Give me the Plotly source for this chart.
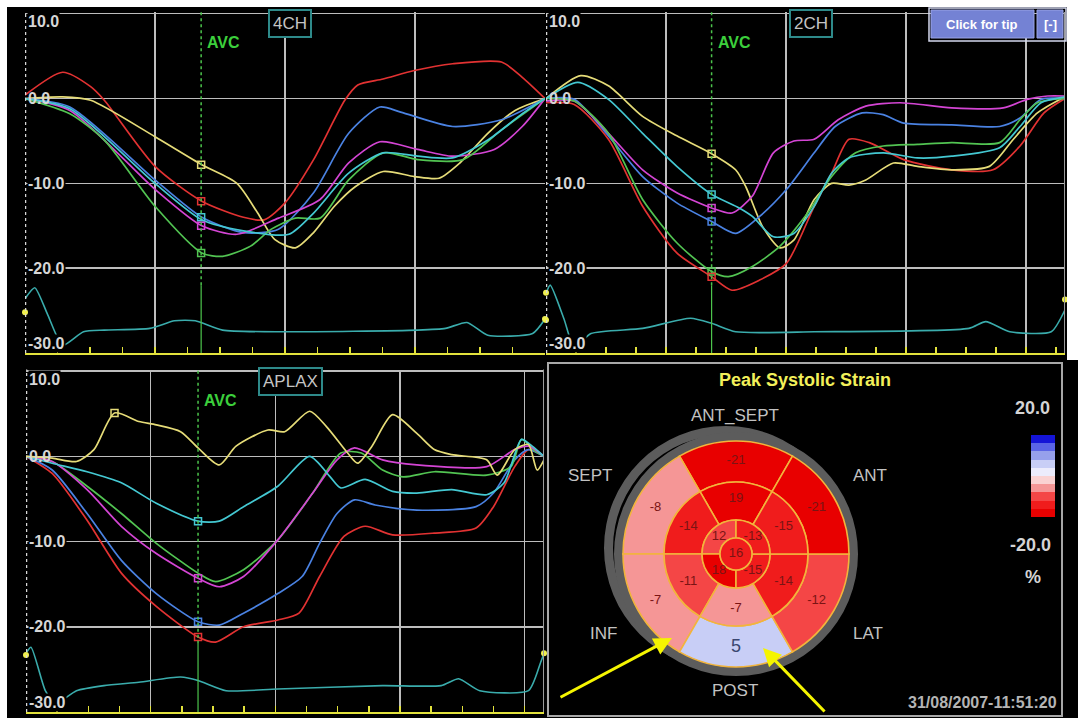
import plotly.graph_objects as go

W, H = 1078, 718

# ---------------- colours ----------------
RED, YEL, BLU, MAG, GRN, CYA = "#e23232", "#e6dc78", "#4a82e2", "#d445d4", "#52c452", "#44c8d2"
ECG_C = "#3aacac"

# ---------------- 4CH view (ms, strain %) ----------------
avc_4ch = 271
t_4ch_red = [0, 58, 101, 122, 200, 272, 336, 368, 400, 444, 492, 512, 551, 599, 658, 733, 765, 800]
v_4ch_red = [0.4, 3.1, 1.4, -0.2, -8, -12.1, -14, -14.3, -12.3, -7.2, -0.2, 1.6, 2.3, 3.3, 4.1, 4.3, 2.5, 0]
t_4ch_yel = [0, 58, 101, 200, 272, 326, 358, 384, 416, 444, 476, 508, 551, 599, 637, 669, 712, 754, 800]
v_4ch_yel = [0, 0.2, -0.2, -4.5, -7.8, -10, -13.5, -16.6, -17.6, -15.8, -12.7, -10.4, -8.6, -9.2, -9.4, -7.6, -4.1, -1.4, 0]
t_4ch_blu = [0, 69, 200, 272, 336, 390, 444, 498, 546, 578, 658, 733, 800]
v_4ch_blu = [0, -1, -9.6, -14, -15.8, -15.4, -11.1, -4.1, -1, -1.6, -3.3, -2.5, 0]
t_4ch_mag = [0, 69, 200, 272, 326, 390, 454, 498, 546, 604, 658, 722, 765, 800]
v_4ch_mag = [0, -1.4, -10.7, -15, -16, -14.1, -11.9, -7.6, -5.1, -6, -6.8, -6, -3.3, 0]
t_4ch_grn = [0, 69, 122, 200, 272, 304, 347, 379, 416, 454, 498, 551, 604, 674, 733, 800]
v_4ch_grn = [0, -1.8, -4.9, -12.7, -18.2, -18.6, -17.4, -15.4, -14.1, -14.1, -9.6, -6.4, -7.2, -7.2, -3.7, 0]
t_4ch_cya = [0, 69, 200, 272, 336, 406, 444, 498, 551, 604, 658, 712, 765, 800]
v_4ch_cya = [0, -1.2, -10, -14.3, -15.6, -16, -13.5, -8.8, -6.4, -6.8, -7, -4.9, -1.8, 0]
t_4ch_ecg = [0, 15, 35, 58, 90, 122, 192, 230, 262, 304, 400, 604, 647, 680, 712, 781, 800]
v_4ch_ecg = [-23.6, -22.3, -25.5, -29.1, -27.5, -27.3, -27.1, -26.2, -26.2, -27.3, -27.5, -27.3, -27.1, -26.4, -27.9, -27.7, -26]
mk_4ch_t = [271, 271, 271, 271, 271]
mk_4ch_v = [-7.8, -12.1, -14, -15, -18.2]
mk_4ch_c = [YEL, RED, CYA, MAG, GRN]
dot_4ch_t = [0, 800]
dot_4ch_v = [-25.2, -26]

# ---------------- 2CH view ----------------
avc_2ch = 276
t_2ch_yel = [0, 58, 104, 161, 218, 276, 316, 333, 361, 390, 413, 447, 476, 505, 533, 579, 619, 676, 739, 779, 819, 865]
v_2ch_yel = [0, 2.7, 1.5, -2.1, -4.4, -6.5, -8.4, -10.4, -15.1, -17.6, -16.7, -11.9, -10, -10.2, -9.6, -7.6, -8, -8.4, -8, -4.8, -1.7, 0.2]
t_2ch_cya = [0, 53, 104, 161, 218, 276, 322, 344, 379, 413, 447, 476, 505, 562, 619, 676, 756, 790, 825, 865]
v_2ch_cya = [0, 1.9, -0.1, -4.1, -8, -11.3, -12.9, -13.9, -16.3, -15.9, -12.7, -8.8, -7, -6.4, -7, -6.8, -5.8, -3.3, -0.5, 0.2]
t_2ch_mag = [0, 47, 104, 161, 218, 276, 310, 344, 379, 413, 447, 487, 533, 590, 676, 762, 802, 836, 865]
v_2ch_mag = [-0.3, -0.3, -4.1, -8.4, -11.1, -12.9, -13.5, -11.5, -6.4, -5, -4.8, -2.5, -0.9, -0.5, -1.1, -1.1, -0.1, 0.3, 0.3]
t_2ch_blu = [0, 47, 104, 161, 218, 276, 316, 356, 401, 447, 482, 527, 562, 596, 676, 756, 790, 825, 865]
v_2ch_blu = [0, -0.1, -4.4, -9.2, -12.3, -14.5, -15.9, -13.9, -10.7, -6.4, -3.3, -1.7, -1.9, -2.9, -3.1, -3.3, -2.3, -0.1, 0]
t_2ch_grn = [0, 47, 104, 161, 218, 276, 304, 344, 390, 436, 476, 516, 562, 619, 676, 756, 790, 819, 865]
v_2ch_grn = [0, -0.3, -4.1, -11.9, -17, -20.4, -21, -19.8, -17.4, -13.5, -9.2, -6.4, -5.6, -5.4, -5.2, -5.2, -2.5, -0.5, 0]
t_2ch_red = [0, 47, 104, 161, 218, 276, 310, 356, 401, 447, 476, 505, 539, 596, 676, 745, 790, 830, 865]
v_2ch_red = [-0.5, -0.7, -4.8, -12.7, -18.2, -21, -22.6, -21.4, -19.4, -12.7, -8.8, -4.8, -5.2, -7.2, -8.4, -8.4, -5.6, -1.7, 0]
t_2ch_ecg = [0, 7, 30, 47, 75, 161, 241, 276, 316, 447, 705, 733, 773, 842, 865]
v_2ch_ecg = [-23, -22, -26, -29.3, -27.7, -27.1, -25.9, -26.5, -27.5, -27.5, -27.1, -26.3, -27.5, -27.5, -24.9]
mk_2ch_t = [276, 276, 276, 276, 276, 276]
mk_2ch_v = [-6.5, -11.3, -12.9, -14.5, -20.4, -21]
mk_2ch_c = [YEL, CYA, MAG, BLU, GRN, RED]
dot_2ch_t = [0, 0, 865]
dot_2ch_v = [-22.9, -26.1, -23.7]

# ---------------- APLAX view ----------------
avc_aplax = 276
t_apl_yel = [0, 42, 81, 109, 142, 181, 209, 248, 276, 310, 337, 388, 415, 455, 482, 516, 532, 555, 588, 627, 655, 683, 739, 756, 784, 806, 820, 831]
v_apl_yel = [0, -0.2, -0.6, 0.8, 5.1, 4.1, 3.7, 2.9, 1, -1, 1.2, 3.1, 2.9, 5.3, 3.5, 0.4, -0.8, 1.2, 4.9, 2.7, 0.8, 0.2, -0.4, -2.2, 0.8, 1.4, -1.6, -0.4]
t_apl_cya = [0, 42, 98, 153, 209, 276, 310, 349, 404, 455, 488, 505, 544, 588, 627, 683, 739, 767, 795, 812, 831]
v_apl_cya = [0, -0.8, -1.8, -3.1, -5.5, -7.6, -7.6, -5.9, -3.5, 0, -2.4, -3.7, -2.7, -4.1, -4.3, -3.9, -4.5, -3.1, 2, 1.2, 0]
t_apl_mag = [0, 42, 98, 153, 209, 276, 310, 349, 404, 460, 499, 527, 572, 627, 739, 784, 806, 831]
v_apl_mag = [0, -0.6, -3.9, -8.2, -11.4, -14.3, -15.3, -14.1, -9.8, -4.3, -0.4, 1, -0.4, -1, -1.2, 0.8, 1.2, 0]
t_apl_grn = [0, 42, 98, 153, 209, 276, 304, 349, 404, 460, 505, 538, 572, 605, 655, 739, 778, 795, 817, 831]
v_apl_grn = [0, -0.6, -3.5, -6.7, -10.2, -13.7, -14.7, -13.3, -9.8, -4.3, 0.4, 0.4, -1.6, -2.4, -1.8, -2.2, -1.2, 2, 0.6, 0]
t_apl_blu = [0, 42, 98, 153, 209, 276, 310, 349, 404, 443, 471, 499, 527, 560, 627, 722, 750, 784, 806, 831]
v_apl_blu = [0, -1.6, -6.7, -12.2, -16.1, -19.4, -19.8, -18.4, -16.1, -14.1, -10.2, -6.7, -5.1, -5.7, -6.3, -5.9, -4.3, -0.4, 0.8, 0]
t_apl_red = [0, 42, 98, 153, 209, 276, 304, 349, 404, 438, 471, 510, 544, 588, 655, 722, 750, 784, 806, 831]
v_apl_red = [0, -2, -7.5, -13.7, -17.6, -21.2, -21.8, -20, -19.2, -18.4, -14.1, -9.4, -8.2, -9.2, -9, -8.4, -5.9, -1.2, 0.8, 0]
t_apl_ecg = [0, 8, 31, 47, 81, 125, 181, 248, 276, 321, 404, 572, 666, 694, 728, 806, 825, 831]
v_apl_ecg = [-23.1, -22.4, -27.5, -29, -27.5, -26.9, -26.5, -25.9, -26.3, -27.5, -27.3, -26.9, -26.9, -26.1, -27.5, -27.5, -24.3, -23.1]
mk_apl_t = [142, 276, 276, 276, 276]
mk_apl_v = [5.1, -7.6, -14.3, -19.4, -21.2]
mk_apl_c = [YEL, CYA, MAG, BLU, RED]
dot_apl_t = [0, 831]
dot_apl_v = [-23.3, -23.1]

# ---------------- bull's eye (17 segments) ----------------
seg_values = [-21, -8, -7, 5, -12, -21,      # basal: ANT_SEPT, SEPT, INF, POST, LAT, ANT
              -19, -14, -11, -7, -14, -15,   # mid
              -12, -18, -15, -13,            # apical
              -16]                           # apex
seg_text = ["-21", "-8", "-7", "5", "-12", "-21",
            "19", "-14", "-11", "-7", "-14", "-15",
            "12", "18", "-15", "-13",
            "16"]
seg_theta = [90, 150, 210, 270, 330, 30,
             90, 150, 210, 270, 330, 30,
             135, 225, 315, 45,
             0]
seg_width = [60] * 6 + [60] * 6 + [90] * 4 + [360]
seg_base = [72] * 6 + [34] * 6 + [16] * 4 + [0]
seg_outer = [113] * 6 + [72] * 6 + [34] * 4 + [16]
lab_r = [93] * 6 + [55] * 6 + [24] * 4 + [0]
wall_names = ["ANT_SEPT", "SEPT", "ANT", "INF", "LAT", "POST"]

# ---------------- helpers ----------------
def px_x(p):
    return p / W

def px_y(p):
    return 1 - p / H

fig = go.Figure()

GRID = "#bdbdbd"
AX_YEL = "#e2e23c"
YRANGE = [-30, 10.2]

panels = [
    ("", (25, 545), (12, 353), 800, avc_4ch, "4CH", 408, [200, 400, 600]),
    ("2", (546, 1065), (12, 353), 865, avc_2ch, "2CH", 441, [200, 400, 600, 800]),
    ("3", (26, 544), (369.5, 712), 831, avc_aplax, "APLAX", 425, [200, 400, 600, 800]),
]

curves = {
    "": [(t_4ch_red, v_4ch_red, RED), (t_4ch_yel, v_4ch_yel, YEL), (t_4ch_blu, v_4ch_blu, BLU),
         (t_4ch_mag, v_4ch_mag, MAG), (t_4ch_grn, v_4ch_grn, GRN), (t_4ch_cya, v_4ch_cya, CYA)],
    "2": [(t_2ch_red, v_2ch_red, RED), (t_2ch_yel, v_2ch_yel, YEL), (t_2ch_blu, v_2ch_blu, BLU),
          (t_2ch_mag, v_2ch_mag, MAG), (t_2ch_grn, v_2ch_grn, GRN), (t_2ch_cya, v_2ch_cya, CYA)],
    "3": [(t_apl_red, v_apl_red, RED), (t_apl_blu, v_apl_blu, BLU), (t_apl_grn, v_apl_grn, GRN),
          (t_apl_mag, v_apl_mag, MAG), (t_apl_cya, v_apl_cya, CYA), (t_apl_yel, v_apl_yel, YEL)],
}
ecgs = {"": (t_4ch_ecg, v_4ch_ecg), "2": (t_2ch_ecg, v_2ch_ecg), "3": (t_apl_ecg, v_apl_ecg)}
marks = {"": (mk_4ch_t, mk_4ch_v, mk_4ch_c), "2": (mk_2ch_t, mk_2ch_v, mk_2ch_c), "3": (mk_apl_t, mk_apl_v, mk_apl_c)}
dots = {"": (dot_4ch_t, dot_4ch_v), "2": (dot_2ch_t, dot_2ch_v), "3": (dot_apl_t, dot_apl_v)}

annotations = []
shapes = []

for sfx, (x0, x1), (y0, y1), dur, avc, vlabel, vlab_x, majors in panels:
    xa, ya = "x" + sfx, "y" + sfx
    fig.update_layout(**{
        "xaxis" + sfx: dict(domain=[px_x(x0), px_x(x1)], range=[0, dur], anchor=ya,
                            tickvals=majors, showgrid=True, gridcolor=GRID, gridwidth=1.5,
                            showticklabels=False, ticks="inside", ticklen=6, tickwidth=1.5,
                            tickcolor=AX_YEL, showline=True, linecolor=AX_YEL, linewidth=2,
                            zeroline=False, fixedrange=True,
                            minor=dict(tickvals=list(range(50, dur, 50)), ticks="inside",
                                       ticklen=6, tickwidth=1.5, tickcolor=AX_YEL, showgrid=False)),
        "yaxis" + sfx: dict(domain=[px_y(y1), px_y(y0)], range=YRANGE, anchor=xa,
                            tickvals=[10, 0, -10, -20], showgrid=True, gridcolor=GRID, gridwidth=1.5,
                            showticklabels=False, ticks="", zeroline=False, showline=False,
                            fixedrange=True),
    })
    te, ve = ecgs[sfx]
    fig.add_trace(go.Scatter(x=te, y=ve, mode="lines", xaxis=xa, yaxis=ya,
                             line=dict(color=ECG_C, width=1.6, shape="spline", smoothing=0.6),
                             showlegend=False, hoverinfo="skip"))
    for t, v, c in curves[sfx]:
        fig.add_trace(go.Scatter(x=t, y=v, mode="lines", xaxis=xa, yaxis=ya,
                                 line=dict(color=c, width=1.7, shape="spline", smoothing=0.7),
                                 showlegend=False, hoverinfo="skip"))
    mt, mv, mc = marks[sfx]
    fig.add_trace(go.Scatter(x=mt, y=mv, mode="markers", xaxis=xa, yaxis=ya,
                             marker=dict(symbol="square-open", size=7, color=mc, line=dict(width=1.5)),
                             showlegend=False, hoverinfo="skip"))
    dt, dv = dots[sfx]
    fig.add_trace(go.Scatter(x=dt, y=dv, mode="markers", xaxis=xa, yaxis=ya,
                             marker=dict(symbol="circle", size=6, color="#f0f050"),
                             showlegend=False, hoverinfo="skip", cliponaxis=False))
    shapes.append(dict(type="line", xref=xa, yref=ya + " domain", x0=0, x1=0, y0=0, y1=1,
                       line=dict(color="#d8d8d8", width=2.5, dash="dot"), layer="above"))
    if sfx != "":
        shapes.append(dict(type="line", xref=xa, yref=ya + " domain", x0=dur, x1=dur, y0=0, y1=1,
                           line=dict(color="#9a9a9a", width=2)))
    shapes.append(dict(type="line", xref=xa, yref=ya, x0=avc, x1=avc, y0=-22, y1=10.2,
                       line=dict(color="#4cc44c", width=1.5, dash="dot")))
    shapes.append(dict(type="line", xref=xa, yref=ya, x0=avc, x1=avc, y0=-30, y1=-22,
                       line=dict(color="#4cc44c", width=1.2)))
    annotations.append(dict(xref=xa, yref=ya, x=avc, y=6.6, xanchor="left", yanchor="middle",
                            xshift=4, text="<b>AVC</b>", showarrow=False,
                            font=dict(family="Liberation Sans, Arial", size=16, color="#3ccf3c")))
    annotations.append(dict(xref=xa, yref=ya, x=vlab_x, y=8.8, xanchor="center", yanchor="middle",
                            text=vlabel, showarrow=False, bgcolor="#000000",
                            bordercolor="#2e8a8a", borderwidth=2, borderpad=3,
                            font=dict(family="Liberation Sans, Arial", size=17, color="#c4c4c4")))
    for val, lab in [(10, "10.0"), (0, "0.0"), (-10, "-10.0"), (-20, "-20.0"), (-30, "-30.0")]:
        ya_anchor = "middle"
        yy = val
        if val == 10:
            ya_anchor, yy = "top", 10.2
        if val == -30:
            ya_anchor = "bottom"
        annotations.append(dict(xref=xa, yref=ya, x=0, y=yy, xanchor="left", yanchor=ya_anchor,
                                xshift=2, text="<b>" + lab + "</b>", showarrow=False,
                                bgcolor="#000000" if val != 0 else "rgba(0,0,0,0)", borderpad=0,
                                font=dict(family="Liberation Sans, Arial", size=16, color="#d6d6d6")))

# ---------------- bull's eye ----------------
CX, CY, HALF = 736, 554, 135
GX, GY = CX - 10, CY - 6
cs_colors = ["rgb(232,0,0)", "rgb(240,28,28)", "rgb(244,70,70)", "rgb(245,150,150)",
             "rgb(250,210,210)", "rgb(236,236,252)", "rgb(200,206,246)", "rgb(150,160,236)",
             "rgb(90,100,230)", "rgb(20,20,215)"]
stepped = []
for i, c in enumerate(cs_colors):
    a = 0 if i == 0 else i / 10 - 0.001
    b = 1 if i == 9 else (i + 1) / 10 - 0.001
    stepped += [[a, c], [b, c]]

polar_common = dict(bgcolor="rgba(0,0,0,0)",
                    radialaxis=dict(visible=False, range=[0, HALF]),
                    angularaxis=dict(visible=False, rotation=0, direction="counterclockwise"))
fig.update_layout(
    polar=dict(domain=dict(x=[px_x(GX - HALF), px_x(GX + HALF)], y=[px_y(GY + HALF), px_y(GY - HALF)]),
               **polar_common),
    polar2=dict(domain=dict(x=[px_x(CX - HALF), px_x(CX + HALF)], y=[px_y(CY + HALF), px_y(CY - HALF)]),
                **polar_common),
)
RING = "#5c5c5c"
fig.add_trace(go.Barpolar(r=[9], base=[113], theta=[0], width=[360], subplot="polar",
                          marker=dict(color=RING, line=dict(width=0)), showlegend=False, hoverinfo="skip"))
fig.add_trace(go.Barpolar(r=[9], base=[113], theta=[0], width=[360], subplot="polar2",
                          marker=dict(color=RING, line=dict(width=0)), showlegend=False, hoverinfo="skip"))
fig.add_trace(go.Barpolar(
    r=[o - b for o, b in zip(seg_outer, seg_base)], base=seg_base, theta=seg_theta, width=seg_width,
    subplot="polar2", showlegend=False, hoverinfo="skip",
    marker=dict(color=seg_values, colorscale=stepped, cmin=-20, cmax=20,
                line=dict(color="#f2b43c", width=1.6),
                colorbar=dict(x=px_x(1021), xanchor="left", y=px_y(476), yanchor="middle",
                              len=102, lenmode="pixels", thickness=24, thicknessmode="pixels",
                              showticklabels=False, ticks="", outlinewidth=0, bgcolor="rgba(0,0,0,0)")),
))
fig.add_trace(go.Scatterpolar(
    r=lab_r, theta=seg_theta, text=seg_text, mode="text", subplot="polar2",
    textfont=dict(family="Liberation Sans, Arial",
                  size=[18 if s == "5" else 13 for s in seg_text],
                  color=["#3a4670" if s == "5" else "#7a1414" for s in seg_text]),
    showlegend=False, hoverinfo="skip"))

wall_pos = {"ANT_SEPT": (735, 415), "SEPT": (590, 475), "ANT": (870, 475),
            "INF": (603, 633), "LAT": (868, 633), "POST": (735, 690)}
for name in wall_names:
    px, py = wall_pos[name]
    annotations.append(dict(xref="paper", yref="paper", x=px_x(px), y=px_y(py), xanchor="center",
                            yanchor="middle", text=name, showarrow=False,
                            font=dict(family="Liberation Sans, Arial", size=17, color="#c2c2c2")))

annotations += [
    dict(xref="paper", yref="paper", x=px_x(805), y=px_y(380), xanchor="center", yanchor="middle",
         text="<b>Peak Systolic Strain</b>", showarrow=False,
         font=dict(family="Liberation Sans, Arial", size=18, color="#f2f05a")),
    dict(xref="paper", yref="paper", x=px_x(1032), y=px_y(408), xanchor="center", yanchor="middle",
         text="<b>20.0</b>", showarrow=False,
         font=dict(family="Liberation Sans, Arial", size=18, color="#d4d4d4")),
    dict(xref="paper", yref="paper", x=px_x(1030), y=px_y(545), xanchor="center", yanchor="middle",
         text="<b>-20.0</b>", showarrow=False,
         font=dict(family="Liberation Sans, Arial", size=18, color="#d4d4d4")),
    dict(xref="paper", yref="paper", x=px_x(1033), y=px_y(577), xanchor="center", yanchor="middle",
         text="<b>%</b>", showarrow=False,
         font=dict(family="Liberation Sans, Arial", size=18, color="#d4d4d4")),
    dict(xref="paper", yref="paper", x=px_x(1059), y=px_y(702), xanchor="right", yanchor="middle",
         text="<b>31/08/2007-11:51:20</b>", showarrow=False,
         font=dict(family="Liberation Sans, Arial", size=16, color="#b4b4b4")),
    dict(xref="paper", yref="paper", x=px_x(672), y=px_y(638), ax=-113, ay=60, text="",
         showarrow=True, arrowhead=2, arrowsize=1.2, arrowwidth=3, arrowcolor="#f5f500"),
    dict(xref="paper", yref="paper", x=px_x(763), y=px_y(648), ax=63, ay=65, text="",
         showarrow=True, arrowhead=2, arrowsize=1.2, arrowwidth=3, arrowcolor="#f5f500"),
    dict(xref="paper", yref="paper", x=px_x(982), y=px_y(24), xanchor="center", yanchor="middle",
         text="<b>Click for tip</b>", showarrow=False,
         font=dict(family="Liberation Sans, Arial", size=13, color="#ffffff")),
    dict(xref="paper", yref="paper", x=px_x(1050), y=px_y(24), xanchor="center", yanchor="middle",
         text="<b>[-]</b>", showarrow=False,
         font=dict(family="Liberation Sans, Arial", size=13, color="#ffffff")),
]

def prect(x0, y0, x1, y1, **kw):
    return dict(type="rect", xref="paper", yref="paper", x0=px_x(x0), x1=px_x(x1),
                y0=px_y(y1), y1=px_y(y0), **kw)

shapes += [
    prect(548, 363, 1062, 716, line=dict(color="#a8a8a8", width=2), layer="above"),
    prect(929, 8, 1066, 41, line=dict(color="#d4d8ee", width=1.5), fillcolor="rgba(0,0,0,0)", layer="above"),
    prect(931, 10, 1034, 38, line=dict(color="#9aa4e6", width=1), fillcolor="#7482d4", layer="above"),
    prect(1037, 10, 1063, 38, line=dict(color="#9aa4e6", width=1), fillcolor="#7482d4", layer="above"),
    prect(0, 0, 1078, 7, line=dict(width=0), fillcolor="#ffffff", layer="above"),
    prect(0, 0, 7, 718, line=dict(width=0), fillcolor="#ffffff", layer="above"),
    prect(1067, 0, 1078, 360, line=dict(width=0), fillcolor="#ffffff", layer="above"),
]

fig.update_layout(
    width=W, height=H, margin=dict(l=0, r=0, t=0, b=0),
    paper_bgcolor="#000000", plot_bgcolor="#000000",
    showlegend=False, annotations=annotations, shapes=shapes,
    font=dict(family="Liberation Sans, Arial"),
)

fig.write_html("out.html", config={"displayModeBar": False, "staticPlot": True},
               post_script="document.body.style.margin='0px';document.body.style.overflow='hidden';")
